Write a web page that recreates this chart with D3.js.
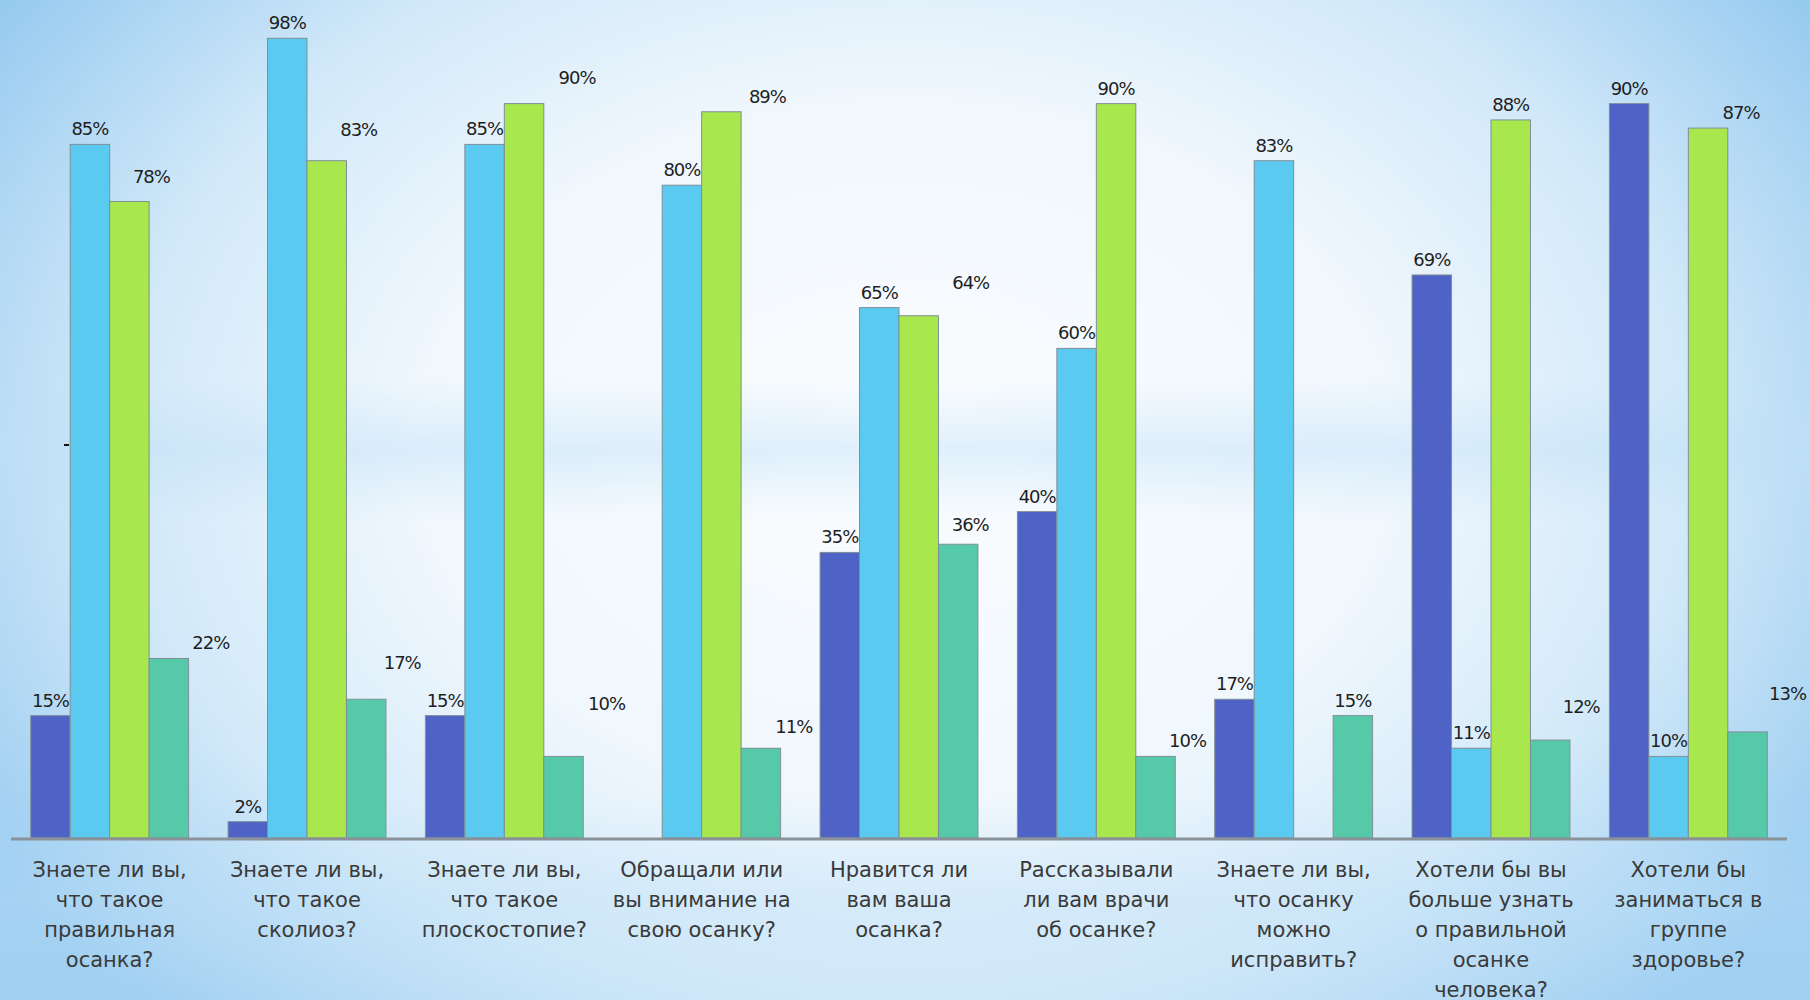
<!DOCTYPE html>
<html>
<head>
<meta charset="utf-8">
<script src="https://cdn.jsdelivr.net/npm/d3@7"></script>
<style>
    html, body { margin: 0; padding: 0; overflow: hidden; }
    #chart { width: 1810px; height: 1000px; }
</style>
</head>
<body>
<div id="chart"></div>
<script>
// questions, split into the lines shown under each group
let questions = [
    ['Знаете ли вы,', 'что такое', 'правильная', 'осанка?'],
    ['Знаете ли вы,', 'что такое', 'сколиоз?'],
    ['Знаете ли вы,', 'что такое', 'плоскостопие?'],
    ['Обращали или', 'вы внимание на', 'свою осанку?'],
    ['Нравится ли', 'вам ваша', 'осанка?'],
    ['Рассказывали', 'ли вам врачи', 'об осанке?'],
    ['Знаете ли вы,', 'что осанку', 'можно', 'исправить?'],
    ['Хотели бы вы', 'больше узнать', 'о правильной', 'осанке', 'человека?'],
    ['Хотели бы', 'заниматься в', 'группе', 'здоровье?']
];

// percent per question, null = no bar
let series1 = [15, 2, 15, null, 35, 40, 17, 69, 90];
let series2 = [85, 98, 85, 80, 65, 60, 83, 11, 10];
let series3 = [78, 83, 90, 89, 64, 90, null, 88, 87];
let series4 = [22, 17, 10, 11, 36, 10, 15, 12, 13];

let seriesColors = ['#4f63c6', '#5bcaf1', '#a8e84d', '#56caa8'];

// hand-placed label nudges from the original slide [dx, extra dy]
let labelNudge3 = [[22, 10], [32, 16], [53, 11], [46, 0], [52, 18], [0, 0], [0, 0], [0, 0], [33, 0]];
let labelNudge4 = [[42, 0], [36, 21], [43, 37], [33, 6], [12, 4], [32, 0], [0, 0], [31, 18], [40, 23]];

let allSeries = [series1, series2, series3, series4];
let nudges = [null, null, labelNudge3, labelNudge4];

let svgWidth = 1810, svgHeight = 1000;
let baseline = 838;

let svg = d3.select('#chart').append('svg')
    .attr('width', svgWidth)
    .attr('height', svgHeight);

// slide background
let defs = svg.append('defs');
let rad = defs.append('radialGradient')
    .attr('id', 'bg')
    .attr('cx', '50%').attr('cy', '45%')
    .attr('r', '60%')
    .attr('gradientTransform', 'translate(0.5,0.45) scale(1,1.3) translate(-0.5,-0.45)');
rad.append('stop').attr('offset', '0%').attr('stop-color', '#fbfdff');
rad.append('stop').attr('offset', '45%').attr('stop-color', '#f0f7fd');
rad.append('stop').attr('offset', '72%').attr('stop-color', '#d2e9f9');
rad.append('stop').attr('offset', '100%').attr('stop-color', '#98cbf0');

let band = defs.append('linearGradient')
    .attr('id', 'band')
    .attr('x1', 0).attr('y1', 0).attr('x2', 0).attr('y2', 1);
band.append('stop').attr('offset', '0%').attr('stop-color', '#bfe0f7').attr('stop-opacity', 0);
band.append('stop').attr('offset', '38%').attr('stop-color', '#bfe0f7').attr('stop-opacity', 0);
band.append('stop').attr('offset', '45%').attr('stop-color', '#bfe0f7').attr('stop-opacity', 0.45);
band.append('stop').attr('offset', '52%').attr('stop-color', '#bfe0f7').attr('stop-opacity', 0);
band.append('stop').attr('offset', '80%').attr('stop-color', '#bfe0f7').attr('stop-opacity', 0);
band.append('stop').attr('offset', '90%').attr('stop-color', '#bfe0f7').attr('stop-opacity', 0.35);
band.append('stop').attr('offset', '100%').attr('stop-color', '#bfe0f7').attr('stop-opacity', 0.2);

svg.append('rect').attr('width', svgWidth).attr('height', svgHeight).attr('fill', 'url(#bg)');
svg.append('rect').attr('width', svgWidth).attr('height', svgHeight).attr('fill', 'url(#band)');

let x0 = d3.scaleBand()
    .domain(d3.range(questions.length))
    .range([11, 1787])
    .paddingInner(0.2)
    .paddingOuter(0.1);

let x1 = d3.scaleBand()
    .domain(d3.range(allSeries.length))
    .range([0, x0.bandwidth()]);

let y = d3.scaleLinear()
    .domain([0, 100])
    .range([baseline, 22]);

let rows = [];
questions.forEach((q, i) => {
    allSeries.forEach((s, k) => {
        if (s[i] !== null) rows.push({ q: i, s: k, value: s[i] });
    });
});

svg.append('g').selectAll('rect')
    .data(rows)
    .enter().append('rect')
    .attr('x', d => x0(d.q) + x1(d.s))
    .attr('y', d => y(d.value))
    .attr('width', x1.bandwidth())
    .attr('height', d => baseline - y(d.value))
    .attr('fill', d => seriesColors[d.s])
    .attr('stroke', '#7f8f96')
    .attr('stroke-width', 1);

// axis line
svg.append('line')
    .attr('x1', x0.range()[0]).attr('x2', x0.range()[1])
    .attr('y1', baseline + 1).attr('y2', baseline + 1)
    .attr('stroke', '#8a9299')
    .attr('stroke-width', 3);

// stray tick from the original slide
svg.append('line')
    .attr('x1', 64).attr('x2', 69)
    .attr('y1', 445).attr('y2', 445)
    .attr('stroke', '#111').attr('stroke-width', 2);

// value labels
svg.append('g').selectAll('text')
    .data(rows)
    .enter().append('text')
    .attr('x', d => {
        let n = nudges[d.s] ? nudges[d.s][d.q][0] : 0;
        return x0(d.q) + x1(d.s) + x1.bandwidth() / 2 + n;
    })
    .attr('y', d => {
        let n = nudges[d.s] ? nudges[d.s][d.q][1] : 0;
        return y(d.value) - 9 - n;
    })
    .attr('text-anchor', 'middle')
    .style('font-family', '"DejaVu Sans", sans-serif')
    .style('font-size', '18px')
    .style('letter-spacing', '-1px')
    .attr('fill', '#1e1e1e')
    .text(d => d.value + '%');

// category labels
let cat = svg.append('g').selectAll('text')
    .data(questions)
    .enter().append('text')
    .attr('x', (d, i) => x0(i) + x0.bandwidth() / 2)
    .attr('y', 877)
    .attr('text-anchor', 'middle')
    .style('font-family', '"DejaVu Sans", sans-serif')
    .style('font-size', '21px')
    .attr('fill', '#3a3a3a');

cat.selectAll('tspan')
    .data(d => d)
    .enter().append('tspan')
    .attr('x', function() { return d3.select(this.parentNode).attr('x'); })
    .attr('dy', (d, i) => i === 0 ? 0 : 30)
    .text(d => d);
</script>
</body>
</html>
